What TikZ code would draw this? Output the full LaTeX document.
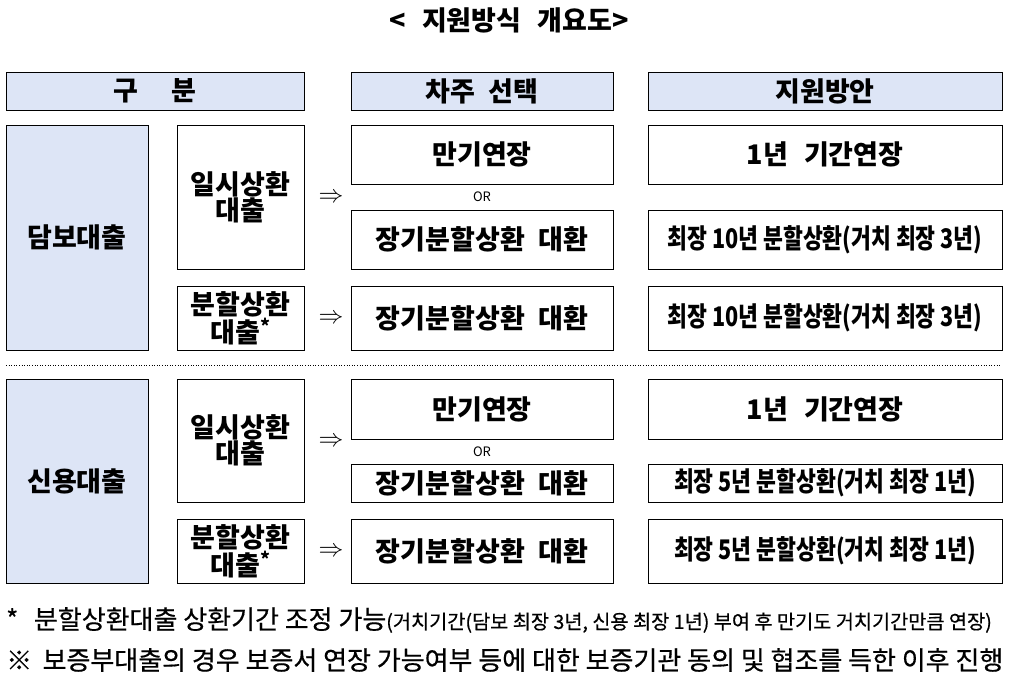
\documentclass[tikz,border=0pt]{standalone}
\usepackage{fontspec}
\usepackage{tikz}
\setmainfont{Noto Sans CJK KR}
\newfontfamily\kcond[FakeStretch=0.8]{Noto Sans CJK KR}
\newfontfamily\kmed[FakeBold=0.5]{Noto Sans CJK KR}
\definecolor{hdrblue}{RGB}{221,229,246}
\newcommand{\BoxFont}{\fontsize{27}{26}\selectfont\bfseries}
\newcommand{\CondFont}{\kcond\bfseries\fontsize{27}{26}\selectfont}

\begin{document}
\begin{tikzpicture}[x=1pt, y=-1pt,
  box/.style={draw, line width=0.8pt, inner sep=0pt, align=center, font=\BoxFont},
  hdr/.style={box, fill=hdrblue},
  tip/.style={font=\fontsize{24}{24}\selectfont, inner sep=0pt},
  ortext/.style={font=\fontsize{13}{13}\selectfont\rmfamily, inner sep=0pt}]
  \useasboundingbox (0,0) rectangle (1018,682);
  \node [font=\BoxFont, inner sep=0pt] (T) at (509,20) {<\hspace{0.6em}지원방식\hspace{0.6em}개요도>};
  % headers
  \node [hdr, minimum width=298, minimum height=38] (HA) at (155,91) {구\hspace{1.2em}분};
  \node [hdr, minimum width=262, minimum height=38] (HB) at (482,91) {차주\hspace{0.5em}선택};
  \node [hdr, minimum width=354, minimum height=38] (HC) at (825,91) {지원방안};
  % collateral loans
  \node [hdr, minimum width=142, minimum height=225] (AA) at (77,237.5) {담보대출};
  \node [box, minimum width=127, minimum height=144] (AB) at (240.5,197) {일시상환\\대출};
  \node [box, minimum width=127, minimum height=64] (AC) at (240.5,318) {분할상환\\대출\textsuperscript{*}};
  \node [box, minimum width=262, minimum height=59] (AD) at (482,154.5) {만기연장};
  \node [box, minimum width=262, minimum height=59] (AE) at (482,239.5) {장기분할상환\hspace{0.5em}대환};
  \node [box, minimum width=262, minimum height=64] (AF) at (482,318) {장기분할상환\hspace{0.5em}대환};
  \node [box, minimum width=354, minimum height=59] (AG) at (825,154.5) {1년\hspace{0.6em}기간연장};
  \node [box, minimum width=354, minimum height=59, font=\CondFont] (AH) at (825,239.5) {최장 10년 분할상환(거치 최장 3년)};
  \node [box, minimum width=354, minimum height=64, font=\CondFont] (AI) at (825,318) {최장 10년 분할상환(거치 최장 3년)};
  \node [ortext] (AO) at (482,197) {OR};
  \node [tip] (AX) at (331,198) {$\Rightarrow$};
  \node [tip] (AY) at (331,319) {$\Rightarrow$};
  % divider
  \coordinate (DL) at (6,365);
  \coordinate (DR) at (1000,365);
  \draw [dotted, line width=0.6pt] (DL) -- (DR);
  % credit loans
  \node [hdr, minimum width=142, minimum height=204] (BA) at (77,481) {신용대출};
  \node [box, minimum width=127, minimum height=123] (BB) at (240.5,440.5) {일시상환\\대출};
  \node [box, minimum width=127, minimum height=64] (BC) at (240.5,551) {분할상환\\대출\textsuperscript{*}};
  \node [box, minimum width=262, minimum height=60] (BD) at (482,409) {만기연장};
  \node [box, minimum width=262, minimum height=38] (BE) at (482,483) {장기분할상환\hspace{0.5em}대환};
  \node [box, minimum width=262, minimum height=64] (BF) at (482,551) {장기분할상환\hspace{0.5em}대환};
  \node [box, minimum width=354, minimum height=60] (BG) at (825,409) {1년\hspace{0.6em}기간연장};
  \node [box, minimum width=354, minimum height=38, font=\CondFont] (BH) at (825,483) {최장 5년 분할상환(거치 최장 1년)};
  \node [box, minimum width=354, minimum height=64, font=\CondFont] (BI) at (825,551) {최장 5년 분할상환(거치 최장 1년)};
  \node [ortext] (BO) at (482,452) {OR};
  \node [tip] (BX) at (331,442) {$\Rightarrow$};
  \node [tip] (BY) at (331,552) {$\Rightarrow$};
  % notes
  \node [anchor=west, inner sep=0pt] (NA) at (6,620) {{\kmed\fontsize{26}{26}\selectfont *\hspace{0.6em}분할상환대출 상환기간 조정 가능}{\kmed\fontsize{19.7}{19.7}\selectfont (거치기간(담보 최장 3년, 신용 최장 1년) 부여 후 만기도 거치기간만큼 연장)}};
  \node [anchor=west, inner sep=0pt, font=\kmed\fontsize{26}{26}\selectfont] (NB) at (6,660) {※\hspace{0.4em}보증부대출의 경우 보증서 연장 가능여부 등에 대한 보증기관 동의 및 협조를 득한 이후 진행};
\end{tikzpicture}
\end{document}
